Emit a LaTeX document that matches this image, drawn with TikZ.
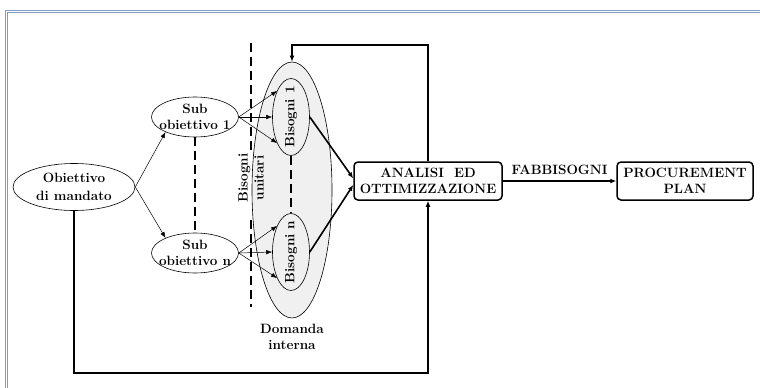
\documentclass[tikz,border=0pt]{standalone}
\usepackage{fontspec}
\usetikzlibrary{shapes.geometric,arrows.meta}
\begin{document}
\begin{tikzpicture}[x=1pt,y=-1pt,
		every node/.style={font=\fontsize{13.5}{16}\selectfont\bfseries,align=center},
		oval/.style={ellipse,draw,line width=0.6pt,inner sep=0pt},
		box/.style={draw,line width=1.5pt,rounded corners=4pt,inner sep=0pt,minimum height=38pt},
		thinarrow/.style={-{Latex[length=6pt,width=4.5pt]},line width=0.5pt},
		thickarrow/.style={-{Latex[length=6pt,width=5pt]},line width=1.6pt},
		dashline/.style={line width=1.8pt,dash pattern=on 9pt off 5pt},
		frame/.style={draw={rgb,255:red,130;green,155;blue,195},line width=0.8pt}]
			\useasboundingbox (0,0) rectangle (760,388);
			\draw[frame] (5,388) -- (5,10) -- (760,10);
			\draw[frame] (7,388) -- (7,12) -- (760,12);
			
			\node[oval,fill=gray!12,minimum width=80pt,minimum height=256pt] (dom) at (292,190) {};
			\node (dom-t) at (292,337) {Domanda\\interna};
			
			\node[oval,minimum width=122pt,minimum height=47pt] (obj) at (74,187) {};
			\node (obj-t) at (obj) {Obiettivo\\[2pt]di mandato};
			\node[oval,minimum width=87pt,minimum height=40pt] (s1) at (195,117) {};
			\node (s1-t) at (s1) {Sub\\obiettivo 1};
			\node[oval,minimum width=87pt,minimum height=40pt] (sn) at (195,253) {};
			\node (sn-t) at (sn) {Sub\\obiettivo n};
			
			\node[oval,minimum width=37pt,minimum height=77pt] (b1) at (291,117) {};
			\node[rotate=90] (b1-t) at (b1) {Bisogni 1};
			\node[oval,minimum width=37pt,minimum height=77pt] (bn) at (291,252) {};
			\node[rotate=90] (bn-t) at (bn) {Bisogni n};
			
			\node[rotate=90] (unit) at (251,178) {Bisogni\\unitari};
			\coordinate (du1) at (251,43);
			\coordinate (du2) at (251,150);
			\coordinate (du3) at (251,220);
			\coordinate (du4) at (251,307);
			\draw[dashline] (du1) -- (du2);
			\draw[dashline] (du3) -- (du4);
			\draw[dashline] (s1.south) -- (sn.north);
			\draw[dashline] (b1.south) -- (bn.north);
			
			\node[box,minimum width=148pt] (an) at (428,181) {ANALISI\ \ ED\\OTTIMIZZAZIONE};
			\node[box,minimum width=136pt] (pp) at (685,181) {PROCUREMENT\\PLAN};
			
			\draw[thinarrow] (obj.east) -- (s1.207);
			\draw[thinarrow] (obj.east) -- (sn.153);
			\foreach \a in {118,180,242} {
				\draw[thinarrow] (s1.east) -- (b1.\a);
				\draw[thinarrow] (sn.east) -- (bn.\a);
			}
			\draw[thickarrow] (b1.east) -- (an.178);
			\draw[thickarrow] (bn.east) -- (an.183);
			\draw[thickarrow] (an.east) -- (pp.west) node[midway,above=2pt] (fab) {FABBISOGNI};
			
			\coordinate (topfb) at (360,45);
			\coordinate (botfb) at (250,373);
			\draw[thickarrow] (an.north) |- (topfb) -| (dom.north);
			\draw[thickarrow] (obj.south) |- (botfb) -| (an.south);
		\end{tikzpicture}
\end{document}
